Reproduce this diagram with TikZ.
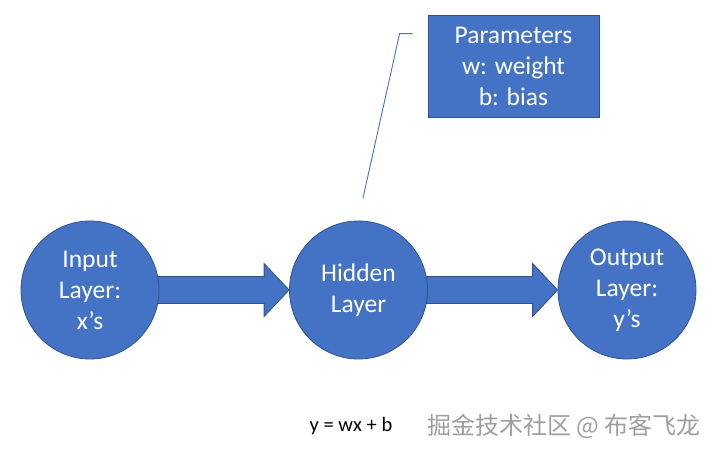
\documentclass[tikz,border=0pt]{standalone}
\usepackage{fontspec}
\setmainfont{Carlito}
\newfontfamily\cjk{Noto Sans CJK SC}
\usetikzlibrary{calc}
\definecolor{blu}{HTML}{4472C4}
\definecolor{bord}{HTML}{2F528F}
\definecolor{wm}{HTML}{9E9E9E}
\pgfdeclarelayer{background}
\pgfsetlayers{background,main}
\begin{document}
\begin{tikzpicture}[x=1pt,y=1pt,
  layer/.style={circle, fill=blu, draw=bord, line width=0.8pt, minimum size=138pt, inner sep=0pt,
    text=white, align=center, font=\fontsize{25.5}{31}\selectfont},
  parbox/.style={rectangle, fill=blu, draw=bord, line width=0.8pt, minimum width=171pt, minimum height=102pt,
    inner sep=0pt, text=white, align=center, font=\fontsize{25.5}{31}\selectfont},
  blockarrow/.style={fill=blu, draw=bord, line width=0.8pt, line join=miter},
  calloutline/.style={draw=blu, line width=0.9pt}]
\useasboundingbox (0,0) rectangle (721,455);
\node[layer] (in) at (90,165) {Input\\Layer:\\x’s};
\node[layer] (hid) at (358.5,165) {Hidden\\Layer};
\node[layer] (out) at (627,165) {Output\\Layer:\\y’s};
\node[parbox] (par) at (513.5,389) {Parameters\\w: weight\\b: bias};
\begin{pgfonlayer}{background}
\draw[blockarrow] ($(in.east)+(-4,13.5)$) -- ($(hid.west)+(-25,13.5)$) -- ($(hid.west)+(-25,26.5)$)
  -- (hid.west) -- ($(hid.west)+(-25,-26.5)$) -- ($(hid.west)+(-25,-13.5)$) -- ($(in.east)+(-4,-13.5)$) -- cycle;
\draw[blockarrow] ($(hid.east)+(-4,13.5)$) -- ($(out.west)+(-25,13.5)$) -- ($(out.west)+(-25,26.5)$)
  -- (out.west) -- ($(out.west)+(-25,-26.5)$) -- ($(out.west)+(-25,-13.5)$) -- ($(hid.east)+(-4,-13.5)$) -- cycle;
\end{pgfonlayer}
\coordinate (k0) at ($(par.north west)+(-15,-19)$);
\coordinate (k1) at ($(par.north west)+(-28,-19)$);
\coordinate (k2) at (363,257);
\draw[calloutline] (k0) -- (k1) -- (k2);
\node[font=\fontsize{20.5}{24}\selectfont, text=black] (eq) at (351,29) {y = wx + b};
\node[font=\cjk\fontsize{24}{28}\selectfont, text=wm, anchor=west, inner sep=0pt] (wmk) at (427,29) {掘金技术社区 @ 布客飞龙};
\end{tikzpicture}
\end{document}
